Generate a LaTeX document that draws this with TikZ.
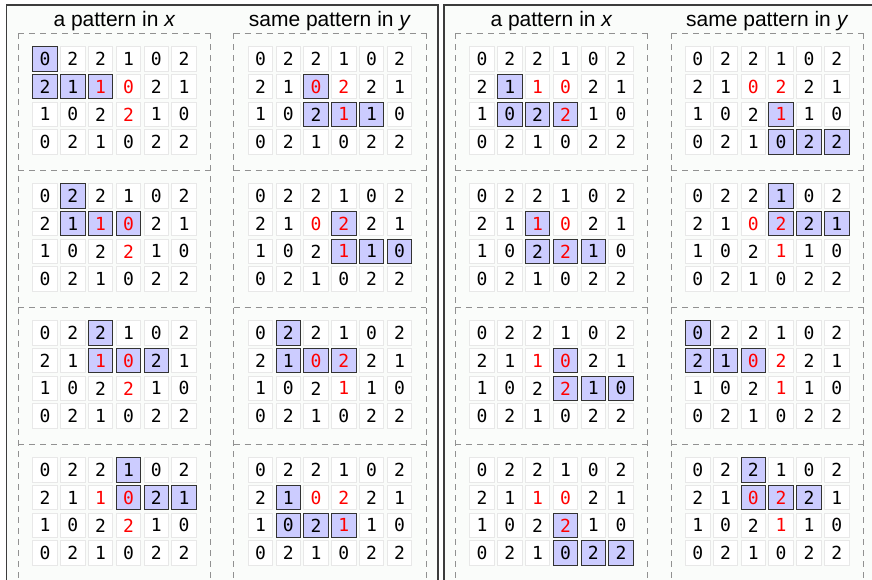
\documentclass[tikz,border=0pt]{standalone}
\usepackage{fontspec}
\setmainfont{Liberation Sans}
\newfontfamily\digitfont{DejaVu Sans Mono}

\definecolor{panelbg}{RGB}{250,252,250}
\definecolor{cellline}{RGB}{232,232,232}
\definecolor{hlfill}{RGB}{204,204,255}
\definecolor{hlline}{RGB}{51,51,51}
\definecolor{boxline}{RGB}{145,145,145}
\definecolor{panelline}{RGB}{60,60,60}

% the two digit layouts
\def\matx{{0,2,2,1,0,2},{2,1,1,0,2,1},{1,0,2,2,1,0},{0,2,1,0,2,2}}
\def\maty{{0,2,2,1,0,2},{2,1,0,2,2,1},{1,0,2,1,1,0},{0,2,1,0,2,2}}

\tikzset{
  panel/.style={draw=panelline, line width=1.5pt, fill=panelbg},
  boxedge/.style={draw=boxline, line width=1pt, dash pattern=on 6pt off 5pt},
  cell/.style={draw=cellline, fill=white, line width=1pt, minimum size=24.5pt,
    inner sep=0pt, outer sep=0pt},
  hlcell/.style={draw=hlline, fill=hlfill, line width=1pt, minimum size=24.5pt,
    inner sep=0pt, outer sep=0pt},
  digit/.style={font=\digitfont\fontsize{18}{18}\selectfont, inner sep=0pt},
  heading/.style={font=\fontsize{21}{24}\selectfont, anchor=base, inner sep=0pt},
}

\begin{document}
\begin{tikzpicture}[x=1pt,y=-1pt]
\useasboundingbox (0,0) rectangle (872,579);
\clip (0,0) rectangle (872,579);

% two framed panels
\draw[panel] (6.7,5) rectangle (437.8,600);
\draw[panel] (444.2,5) rectangle (890,600);

% dashed frames and headings of each column
\foreach \col/\ox/\m in {0/32.3/x,1/247.7/y,2/469.3/x,3/685/y}{
  \pgfmathsetmacro\bl{\ox-14}
  \pgfmathsetmacro\br{\ox+178.5}
  \pgfmathsetmacro\bc{\ox+82.25}
  \foreach \k in {0,...,4}
    \draw[boxedge] (\bl,33+137*\k) -- (\br,33+137*\k);
  \draw[boxedge] (\bl,33) -- (\bl,600);
  \draw[boxedge] (\br,33) -- (\br,600);
  \node[heading] (heading-\col) at (\bc,26)
    {\if x\m a pattern in \textit{x}\else same pattern in \textit{y}\fi};
}

% plain cells
\foreach \col/\ox in {0/32.3,1/247.7,2/469.3,3/685}
  \foreach \k in {0,...,3}
    \foreach \r in {0,...,3}
      \foreach \c in {0,...,5}
        \node[cell] (cell-\col-\k-\r-\c)
          at ({\ox+27.8*\c+12.75},{46+137*\k+27.8*\r+12.75}) {};

% highlighted L-shaped groups: column / grid / top row / top column
\foreach \col/\k/\hr/\hc in {0/0/0/0,0/1/0/1,0/2/0/2,0/3/0/3,
                             1/0/1/2,1/1/1/3,1/2/0/1,1/3/1/1,
                             2/0/1/1,2/1/1/2,2/2/1/3,2/3/2/3,
                             3/0/2/3,3/1/0/3,3/2/0/0,3/3/0/2}{
  \pgfmathtruncatemacro\ra{\hr+1}
  \pgfmathtruncatemacro\cb{\hc+1}
  \pgfmathtruncatemacro\cc{\hc+2}
  \foreach \rr/\cr in {\hr/\hc,\ra/\hc,\ra/\cb,\ra/\cc}
    \node[hlcell] (hl-\col-\k-\rr-\cr) at (cell-\col-\k-\rr-\cr) {};
}

% digits, three of them in red
\foreach \col/\m in {0/x,1/y,2/x,3/y}{
  \edef\curmat{\csname mat\m\endcsname}
  \foreach \k in {0,...,3}
    \foreach \row [count=\r from 0] in \curmat
      \foreach \d [count=\c from 0] in \row {
        \pgfmathtruncatemacro\isred{((\r==1)&&((\c==2)||(\c==3)))||((\r==2)&&(\c==3))}
        \ifnum\isred=1 \def\dcol{red}\else\def\dcol{black}\fi
        \node[digit, text=\dcol] (digit-\col-\k-\r-\c) at (cell-\col-\k-\r-\c) {\d};
      }
}
\end{tikzpicture}
\end{document}
